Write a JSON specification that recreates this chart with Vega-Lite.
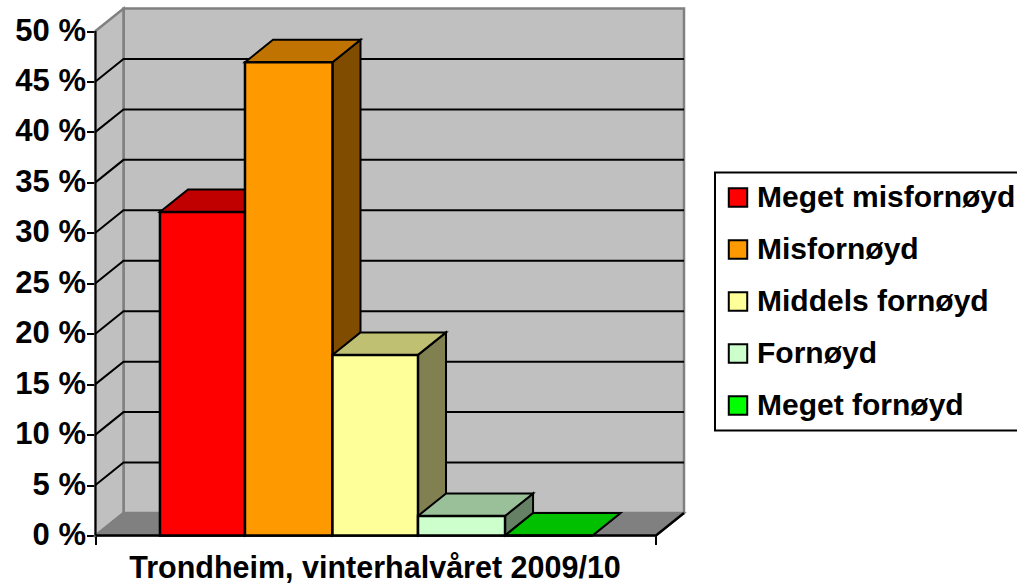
{
"$schema":"https://vega.github.io/schema/vega-lite/v6.json",
"autosize":{"type":"none"},
"padding":{"left":95.5,"top":8.5,"right":333,"bottom":48.5},
"width":588.5,"height":527,
"background":"white",
"config":{"view":{"stroke":null},"font":"Liberation Sans","legend":{"strokeWidth":2}},
"datasets":{
"wall":[{"x":5,"x2":105,"y":2.23,"y2":52.23}],
"leftwall":[{"x":0,"y":50,"y2":0},{"x":5,"y":52.23,"y2":2.23}],
"floor":[{"y":0,"x":0,"x2":100},{"y":2.23,"x":5,"x2":105}],
"grid":[
{"v":5,"x":0,"y":5},{"v":5,"x":5,"y":7.23},{"v":5,"x":105,"y":7.23},
{"v":10,"x":0,"y":10},{"v":10,"x":5,"y":12.23},{"v":10,"x":105,"y":12.23},
{"v":15,"x":0,"y":15},{"v":15,"x":5,"y":17.23},{"v":15,"x":105,"y":17.23},
{"v":20,"x":0,"y":20},{"v":20,"x":5,"y":22.23},{"v":20,"x":105,"y":22.23},
{"v":25,"x":0,"y":25},{"v":25,"x":5,"y":27.23},{"v":25,"x":105,"y":27.23},
{"v":30,"x":0,"y":30},{"v":30,"x":5,"y":32.23},{"v":30,"x":105,"y":32.23},
{"v":35,"x":0,"y":35},{"v":35,"x":5,"y":37.23},{"v":35,"x":105,"y":37.23},
{"v":40,"x":0,"y":40},{"v":40,"x":5,"y":42.23},{"v":40,"x":105,"y":42.23},
{"v":45,"x":0,"y":45},{"v":45,"x":5,"y":47.23},{"v":45,"x":105,"y":47.23}],
"base":[{"x":0,"y":0},{"x":100,"y":0},{"x":105,"y":2.23}],
"yaxisline":[{"x":0,"y":0},{"x":0,"y":50}],
"bars":[
{"series":"Meget misfornøyd","x":11.5,"x2":26.67,"value":32.06,"base":0},
{"series":"Misfornøyd","x":26.67,"x2":42.28,"value":46.9,"base":0},
{"series":"Middels fornøyd","x":42.28,"x2":57.54,"value":17.9,"base":0},
{"series":"Fornøyd","x":57.54,"x2":73.07,"value":1.94,"base":0},
{"series":"Meget fornøyd","x":73.07,"x2":88.67,"value":0,"base":0}],
"tops":[
{"series":"Meget misfornøyd","y":32.06,"x":11.5,"x2":26.67},{"series":"Meget misfornøyd","y":34.29,"x":16.5,"x2":31.67},
{"series":"Misfornøyd","y":46.9,"x":26.67,"x2":42.28},{"series":"Misfornøyd","y":49.13,"x":31.67,"x2":47.28},
{"series":"Middels fornøyd","y":17.9,"x":42.28,"x2":57.54},{"series":"Middels fornøyd","y":20.13,"x":47.28,"x2":62.54},
{"series":"Fornøyd","y":1.94,"x":57.54,"x2":73.07},{"series":"Fornøyd","y":4.17,"x":62.54,"x2":78.07},
{"series":"Meget fornøyd","y":0,"x":73.07,"x2":88.67},{"series":"Meget fornøyd","y":2.23,"x":78.07,"x2":93.67}],
"sides":[
{"series":"Meget misfornøyd","x":26.67,"y":32.06,"y2":0},{"series":"Meget misfornøyd","x":31.67,"y":34.29,"y2":2.23},
{"series":"Misfornøyd","x":42.28,"y":46.9,"y2":0},{"series":"Misfornøyd","x":47.28,"y":49.13,"y2":2.23},
{"series":"Middels fornøyd","x":57.54,"y":17.9,"y2":0},{"series":"Middels fornøyd","x":62.54,"y":20.13,"y2":2.23},
{"series":"Fornøyd","x":73.07,"y":1.94,"y2":0},{"series":"Fornøyd","x":78.07,"y":4.17,"y2":2.23},
{"series":"Meget fornøyd","x":88.67,"y":0,"y2":0},{"series":"Meget fornøyd","x":93.67,"y":2.23,"y2":2.23}]
},
"layer":[
{"data":{"name":"wall"},
 "mark":{"type":"rect","fill":"#C0C0C0","stroke":"#808080","strokeWidth":2.5},
 "encoding":{
  "x":{"field":"x","type":"quantitative","scale":{"domain":[0,105],"nice":false,"zero":false},
   "axis":{"title":"Trondheim, vinterhalvåret 2009/10","values":[0,100],"labels":false,"domain":false,"grid":false,"ticks":true,"tickSize":9,"tickWidth":2,"tickColor":"black","titleFont":"Liberation Sans","titleFontWeight":"bold","titleFontSize":30.5,"titleColor":"black","titleX":279,"titleY":41.5,"titleBaseline":"alphabetic","titleAnchor":"middle","titleAlign":"center"}},
  "x2":{"field":"x2"},
  "y":{"field":"y","type":"quantitative","scale":{"domain":[0,52.23],"nice":false,"zero":false},
   "axis":{"title":null,"values":[0,5,10,15,20,25,30,35,40,45,50],"labelExpr":"datum.value + ' %'","domain":false,"grid":false,"tickSize":9,"tickWidth":2,"tickColor":"black","labelFont":"Liberation Sans","labelFontWeight":"bold","labelFontSize":31,"labelColor":"black","labelPadding":1,"labelFlush":false,"labelOverlap":false}},
  "y2":{"field":"y2"}}},
{"data":{"name":"leftwall"},
 "mark":{"type":"area","fill":"#C0C0C0","stroke":"#808080","strokeWidth":2.5},
 "encoding":{"x":{"field":"x","type":"quantitative"},"y":{"field":"y","type":"quantitative"},"y2":{"field":"y2"}}},
{"data":{"name":"floor"},
 "mark":{"type":"area","orient":"horizontal","fill":"#808080","stroke":"#808080","strokeWidth":2},
 "encoding":{"y":{"field":"y","type":"quantitative"},"x":{"field":"x","type":"quantitative"},"x2":{"field":"x2"}}},
{"data":{"name":"grid"},
 "mark":{"type":"line","color":"black","strokeWidth":2},
 "encoding":{"x":{"field":"x","type":"quantitative"},"y":{"field":"y","type":"quantitative"},"detail":{"field":"v"}}},
{"data":{"name":"base"},
 "mark":{"type":"line","color":"black","strokeWidth":2.5},
 "encoding":{"x":{"field":"x","type":"quantitative"},"y":{"field":"y","type":"quantitative"}}},
{"data":{"name":"yaxisline"},
 "mark":{"type":"line","color":"black","strokeWidth":2,"orient":"vertical"},
 "encoding":{"x":{"field":"x","type":"quantitative"},"y":{"field":"y","type":"quantitative"},"order":{"field":"y"}}},
{"data":{"name":"sides"},
 "mark":{"type":"area","stroke":"black","strokeWidth":2,"opacity":1},
 "encoding":{"x":{"field":"x","type":"quantitative"},"y":{"field":"y","type":"quantitative"},"y2":{"field":"y2"},
  "color":{"field":"series","type":"nominal","legend":null,"scale":{"domain":["Meget misfornøyd","Misfornøyd","Middels fornøyd","Fornøyd","Meget fornøyd"],"range":["#800000","#804D00","#808050","#668066","#008000"]}}}},
{"data":{"name":"tops"},
 "mark":{"type":"area","orient":"horizontal","stroke":"black","strokeWidth":2,"opacity":1},
 "encoding":{"y":{"field":"y","type":"quantitative"},"x":{"field":"x","type":"quantitative"},"x2":{"field":"x2"},
  "color":{"field":"series","type":"nominal","legend":null,"scale":{"domain":["Meget misfornøyd","Misfornøyd","Middels fornøyd","Fornøyd","Meget fornøyd"],"range":["#C00000","#C07300","#C0C073","#99C099","#00C000"]}}}},
{"data":{"name":"bars"},
 "mark":{"type":"rect","stroke":"black","strokeWidth":2.5,"opacity":1},
 "encoding":{"x":{"field":"x","type":"quantitative"},"x2":{"field":"x2"},"y":{"field":"value","type":"quantitative"},"y2":{"field":"base"},
  "color":{"field":"series","type":"nominal","scale":{"domain":["Meget misfornøyd","Misfornøyd","Middels fornøyd","Fornøyd","Meget fornøyd"],"range":["#FF0000","#FF9900","#FFFF99","#CCFFCC","#00FF00"]},
   "legend":{"title":null,"orient":"none","legendX":619.5,"legendY":164,"direction":"vertical","symbolType":"square","symbolSize":340,"symbolStrokeColor":"black","symbolStrokeWidth":2,"symbolOpacity":1,"symbolOffset":-2,"labelFont":"Liberation Sans","labelFontWeight":"bold","labelFontSize":30,"labelColor":"black","labelLimit":500,"labelOffset":4,"rowPadding":22,"padding":10,"strokeColor":"black","fillColor":"white"}}}}
],
"resolve":{"scale":{"color":"independent"}}
}
